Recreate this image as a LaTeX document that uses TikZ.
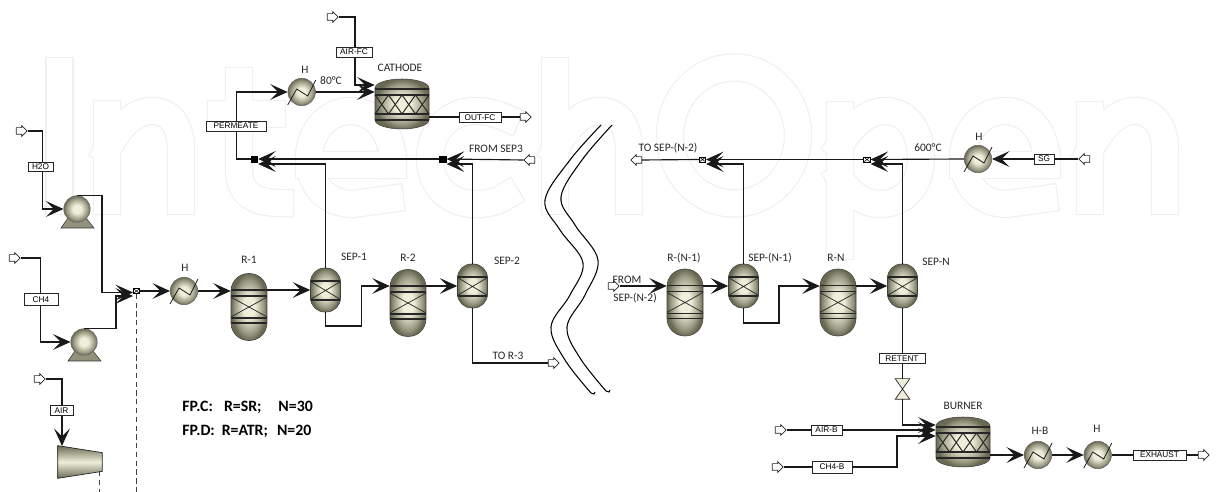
\documentclass[tikz,border=0pt]{standalone}
\usepackage{fontspec}
\setmainfont{Carlito}
\newfontfamily\streamfont{Liberation Sans}
\usetikzlibrary{calc, shapes, shapes.arrows, shapes.geometric, backgrounds, arrows.meta}
\definecolor{olivedark}{HTML}{6A6A54}
\definecolor{olivelight}{HTML}{EEEEDA}
\definecolor{markgray}{HTML}{F0F0F0}
\pgfdeclareradialshading{olive}{\pgfpoint{0bp}{0bp}}{color(0bp)=(olivelight); color(8bp)=(olivelight); color(20bp)=(olivedark!65!olivelight); color(25bp)=(olivedark); color(50bp)=(olivedark)}
\begin{document}
\begin{tikzpicture}[
                    x=0.02cm, y=-0.02cm,
                    line/.style={draw=black!90, line width=.65pt, -{Stealth[length=10pt, width=9pt, inset=4.6pt]}},
                    plain/.style={draw=black!90, line width=.65pt},
                    vessel/.style={rectangle, draw=black!75, line width=.3pt, shading=olive, inner sep=0pt},
                    reactor/.style={vessel, rounded corners=.35cm, minimum width=.72cm, minimum height=1.34cm,
                        path picture={
                            \coordinate (c) at (path picture bounding box.center);
                            \draw[line width=.65pt, black!85] ($(c)+(-20,-17)$) -- ($(c)+(20,-17)$) ($(c)+(-20,-11)$) -- ($(c)+(20,-11)$)
                                ($(c)+(-20,11)$) -- ($(c)+(20,11)$) ($(c)+(-20,16)$) -- ($(c)+(20,16)$);
                            \draw[line width=.4pt, black!85] ($(c)+(-20,-11)$) -- ($(c)+(20,11)$) ($(c)+(-20,11)$) -- ($(c)+(20,-11)$);
                        }},
                    separator/.style={vessel, rounded corners=.28cm, minimum width=.6cm, minimum height=.88cm,
                        path picture={
                            \coordinate (c) at (path picture bounding box.center);
                            \draw[line width=.65pt, black!85] ($(c)+(-16,-9)$) -- ($(c)+(16,-9)$) ($(c)+(-16,10)$) -- ($(c)+(16,10)$);
                            \draw[line width=.4pt, black!85] ($(c)+(-16,-9)$) -- ($(c)+(16,10)$) ($(c)+(-16,10)$) -- ($(c)+(16,-9)$);
                        }},
                    drum/.style={rectangle, minimum width=1.08cm, minimum height=1cm, inner sep=0pt},
                    heater/.style={circle, draw=black!60, line width=.3pt, shading=olive, minimum size=.55cm, inner sep=0pt},
                    pump/.style={heater, minimum size=.53cm},
                    pumpbase/.style={draw=black!80, line width=.3pt, fill=olivedark!70!olivelight},
                    comp/.style={draw=black!85, line width=.4pt, top color=olivedark, bottom color=olivedark, middle color=olivelight},
                    port/.style={single arrow, draw=black!85, fill=white, line width=.4pt, minimum height=.22cm,
                        inner sep=.06cm, single arrow head extend=.04cm, single arrow head indent=0pt},
                    portleft/.style={port, shape border rotate=180},
                    stream/.style={draw=black!85, fill=white, line width=.4pt, inner sep=0pt, minimum height=.2cm, font=\streamfont\fontsize{4.7}{5}\selectfont},
                    tag/.style={inner sep=0pt, text=black!85, font=\fontsize{6.5}{7.5}\selectfont},
                    note/.style={anchor=west, inner sep=0pt, font=\bfseries\fontsize{9}{10}\selectfont},
                    mixblack/.style={rectangle, draw=black, fill=black, minimum width=.13cm, minimum height=.12cm, inner sep=0pt},
                    mixcross/.style={rectangle, draw=black, fill=white, line width=.3pt, minimum width=.13cm, minimum height=.1cm, inner sep=0pt,
                        path picture={\draw[line width=.3pt] (path picture bounding box.north west) -- (path picture bounding box.south east)
                            (path picture bounding box.south west) -- (path picture bounding box.north east);}},
                    backmark/.style={draw=markgray, line width=.7pt, double=white, double distance=.52cm, line cap=rect, line join=round}
                ]
                    \useasboundingbox (0,0) rectangle (1225,492);

                    % Faint lettering behind the flowsheet
                    \begin{scope}[on background layer]
                    \draw[backmark] (59.5,71) -- (59.5,201);
                    \draw[backmark] (107,114) -- (107,201) (107,150) .. controls (120,125) and (135,111) .. (152,111) .. controls (170,111) and (181,125) .. (181,150) -- (181,201);
                    \draw[backmark] (239,81) -- (239,170) .. controls (239,192) and (252,203) .. (280,203) (221,114) -- (272,114);
                    \draw[backmark] (393,165) -- (309,165) (393,165) .. controls (393,132) and (375,111) .. (351,111) .. controls (327,111) and (309,132) .. (309,158) .. controls (309,185) and (327,204) .. (353,204) -- (390,199);
                    \draw[backmark] (506,118) .. controls (495,113) and (485,111) .. (475,111) .. controls (448,111) and (430,132) .. (430,158) .. controls (430,185) and (448,204) .. (475,204) .. controls (487,204) and (497,202) .. (506,196);
                    \draw[backmark] (555,71) -- (555,201) (555,150) .. controls (568,125) and (583,111) .. (600,111) .. controls (618,111) and (629,125) .. (629,150) -- (629,201);
                    \draw[backmark] (734,135.5) ellipse [x radius=64, y radius=68];
                    \draw[backmark] (840,115) -- (840,246) (840,145) .. controls (852,125) and (868,111) .. (885,111) .. controls (908,111) and (921,132) .. (921,158) .. controls (921,185) and (905,204) .. (880,204) .. controls (865,204) and (850,195) .. (840,178);
                    \draw[backmark] (1047,165) -- (963,165) (1047,165) .. controls (1047,132) and (1029,111) .. (1005,111) .. controls (981,111) and (963,132) .. (963,158) .. controls (963,185) and (981,204) .. (1007,204) -- (1044,199);
                    \draw[backmark] (1090,115) -- (1090,201) (1090,150) .. controls (1103,125) and (1118,111) .. (1135,111) .. controls (1153,111) and (1165,125) .. (1165,150) -- (1165,201);
                    \end{scope}

                    % Feed and product ports
                    \node [port] (inh2o) at (20,131) {};
                    \node [port] (inch4) at (13,258) {};
                    \node [port] (inair) at (38,379) {};
                    \node [port] (inairfc) at (331,17) {};
                    \node [port] (outfc) at (524,117) {};
                    \node [portleft] (insep3) at (531,160) {};
                    \node [port] (outr3) at (552,363) {};
                    \node [portleft] (outsepn) at (638,160) {};
                    \node [port] (insepn) at (612,286) {};
                    \node [portleft] (insg) at (1086,159) {};
                    \node [port] (inairb) at (779,430) {};
                    \node [port] (inch4b) at (776,467) {};
                    \node [port] (outexh) at (1202,455) {};

                    % Equipment
                    \node [pump] (ph2o) at (77,209) {};
                    \node [pump] (pch4) at (84,342) {};
                    \node [rectangle, minimum width=.88cm, minimum height=.64cm, inner sep=0pt] (air1) at (80,462) {};
                    \node [mixcross] (mix1) at (136.5,291) {};
                    \node [heater] (h1) at (184,291) {};
                    \node [reactor] (r1) at (249,307) {};
                    \node [separator] (sep1) at (325.5,290) {};
                    \node [reactor] (r2) at (408,303) {};
                    \node [separator] (sep2) at (472.5,286) {};
                    \node [heater] (h2) at (301.7,92) {};
                    \node [drum] (cathode) at (402,104) {};
                    \node [mixblack] (mix2) at (254.5,159) {};
                    \node [mixblack] (mix3) at (443,159) {};
                    \node [mixcross] (mix4) at (702.5,159.5) {};
                    \node [mixcross] (mix5) at (867,159.5) {};
                    \node [heater] (h3) at (978,159) {};
                    \node [reactor] (rn1) at (685,302.5) {};
                    \node [separator] (sepn1) at (743.5,286) {};
                    \node [reactor] (rn) at (838,302.5) {};
                    \node [separator] (sepn) at (902.5,286) {};
                    \node [rectangle, minimum width=.28cm, minimum height=.4cm, inner sep=0pt] (valve) at (902.5,389) {};
                    \node [drum] (burner) at (963,442) {};
                    \node [heater] (hb) at (1038,455) {};
                    \node [heater] (h4) at (1097.7,455) {};

                    \begin{scope}[on background layer]
                    \foreach \p in {ph2o, pch4}
                        \draw [pumpbase] ($(\p)+(-9,9)$) -- ($(\p)+(-16,19)$) -- ($(\p)+(17,19)$) -- ($(\p)+(9,9)$) -- cycle;
                    \end{scope}

                    % Domed drums
                    \foreach \d in {cathode, burner} {
                        \shade [shading=olive, draw=black!75, line width=.3pt] ($(\d)+(-27,-16)$) arc [start angle=180, end angle=360, x radius=27, y radius=9] -- ++(0,32) arc [start angle=0, end angle=180, x radius=27, y radius=9] -- cycle;
                        \draw [line width=.65pt, black!85] ($(\d)+(-27,-15)$) -- ($(\d)+(27,-15)$) ($(\d)+(-27,-9)$) -- ($(\d)+(27,-9)$)
                            ($(\d)+(-27,10)$) -- ($(\d)+(27,10)$) ($(\d)+(-27,16)$) -- ($(\d)+(27,16)$);
                        \draw [line width=.55pt, black!85] ($(\d)+(-27,10)$) -- ($(\d)+(-13.5,-9)$) -- ($(\d)+(0,10)$) -- ($(\d)+(13.5,-9)$) -- ($(\d)+(27,10)$);
                        \draw [line width=.55pt, black!85] ($(\d)+(-27,-9)$) -- ($(\d)+(-13.5,10)$) -- ($(\d)+(0,-9)$) -- ($(\d)+(13.5,10)$) -- ($(\d)+(27,-9)$);
                    }

                    % Coils on the heaters
                    \foreach \h in {h1, h2, h3, hb, h4}
                        \draw [line width=.45pt, black!90] ($(\h)+(-14,13)$) -- ($(\h)+(-5,-3)$) -- ($(\h)+(6,4)$) -- ($(\h)+(14,-12)$);

                    % Valve and compressor
                    \draw [draw=black!85, line width=.4pt, fill=olivelight] (valve.north west) -- (valve.north east) -- (valve.south west) -- (valve.south east) -- cycle;
                    \shade [comp] (air1.north west) -- ($(air1.north east)+(0,7)$) -- ($(air1.south east)+(0,-7)$) -- (air1.south west) -- cycle;

                    % Free ends and bends
                    \coordinate (jh2o) at (102,292.5);
                    \coordinate (jch4) at (116,296);
                    \coordinate (jair) at (62,446);
                    \coordinate (dash1) at (136.5,492);
                    \coordinate (dash2) at (99,471);
                    \coordinate (dash3) at (99,492);
                    \coordinate (jfc) at (355,85);
                    \coordinate (top1) at (325.5,164);
                    \coordinate (top2) at (472.5,164);
                    \coordinate (top3) at (743.5,164);
                    \coordinate (top4) at (902.5,164);
                    \coordinate (low1) at (361.5,326);
                    \coordinate (low2) at (779,323);
                    \coordinate (perm) at (236.5,92);
                    \coordinate (jret) at (902.5,425);
                    \coordinate (jch4b) at (897,436);

                    % Edges into the first mixer
                    \path [line] (inh2o.east) -| ($(ph2o.west)+(-21,0)$) -- (ph2o.west);
                    \path [line] (inch4.east) -| ($(pch4.west)+(-30,0)$) -- (pch4.west);
                    \path [line] (ph2o.north) -| (jh2o) -- (mix1.west |- jh2o);
                    \path [line] (pch4.north) -| (jch4) -- (mix1.west |- jch4);
                    \path [line] (inair.east) -| (jair);
                    \path [line] (mix1.east) -- (h1.west);
                    \path [line] (h1.east) -- (r1.west |- h1);

                    % Edges along the left train
                    \path [line] (r1.east |- sep1) -- (sep1.west);
                    \path [line] (sep1.south) |- (low1) |- (r2.west |- sep2);
                    \path [line] (r2.east |- sep2) -- (sep2.west);
                    \path [line] (sep1.north) -- (top1) -- (mix2.east |- top1);
                    \path [line] (sep2.north) -- (top2) -- (mix3.east |- top2);
                    \path [line] (insep3.west) -- (mix3.east);
                    \path [line] (mix3.west) -- (mix2.east);
                    \path [line] (mix2.west) -| (perm) -- (h2.west);
                    \path [line] (h2.east) -- (cathode.west |- h2);
                    \path [line] (inairfc.east) -| (jfc) -- (cathode.west |- jfc);
                    \path [plain] (cathode.east |- outfc) -- (outfc.west);
                    \path [plain] (sep2.south) |- (outr3.west);

                    % Edges along the right train
                    \path [line] (insepn.east) -- (rn1.west |- insepn);
                    \path [line] (rn1.east |- sepn1) -- (sepn1.west);
                    \path [line] (sepn1.south) |- (low2) |- (rn.west |- sepn);
                    \path [line] (rn.east |- sepn) -- (sepn.west);
                    \path [line] (sepn1.north) -- (top3) -- (mix4.east |- top3);
                    \path [line] (sepn.north) -- (top4) -- (mix5.east |- top4);
                    \path [line] (insg.west) -- (h3.east);
                    \path [line] (h3.west) -- (mix5.east);
                    \path [line] (mix5.west) -- (mix4.east);
                    \path [plain] (mix4.west) -- (outsepn.east);

                    % Edges around the burner
                    \path [plain] (sepn.south) -- (valve.north);
                    \path [line] (valve.south) -- (jret) -- (burner.west |- jret);
                    \path [line] (inairb.east) -- (burner.west |- inairb);
                    \path [line] (inch4b.east) -| (jch4b) -- (burner.west |- jch4b);
                    \path [line] (burner.east |- hb) -- (hb.west);
                    \path [line] (hb.east) -- (h4.west);
                    \path [plain] (h4.east) -- (outexh.west);

                    % Signal lines
                    \draw [densely dashed, black!75, line width=.55pt] (mix1.south) -- (dash1);
                    \draw [densely dashed, black!75, line width=.55pt] (dash2) -- (dash3);

                    % Break in the train
                    \draw [line width=.6pt] plot [smooth, tension=.6] coordinates {(601,125) (570,160) (545,200) (560,230) (583,263) (570,295) (551,327) (565,360) (591,393)} -- ++(3,1) -- ++(1,-2);
                    \draw [line width=.6pt] plot [smooth, tension=.6] coordinates {(612,125) (582,160) (561,197) (575,225) (598,260) (585,295) (567,327) (580,358) (606,391)} -- ++(3,1) -- ++(1,-2);

                    % Stream tables
                    \node [stream, minimum width=.5cm, minimum height=.18cm] (lh2o) at (40.5,166.5) {H2O};
                    \node [stream, minimum width=.68cm, minimum height=.24cm] (lch4) at (41,299.5) {CH4};
                    \node [stream, minimum width=.46cm, minimum height=.21cm] (lair) at (61.5,410.5) {AIR};
                    \node [stream, minimum width=1.2cm] (lperm) at (236,126) {PERMEATE};
                    \node [stream, minimum width=.72cm] (lairfc) at (354,52) {AIR-FC};
                    \node [stream, minimum width=.84cm, minimum height=.19cm] (loutfc) at (480,117.5) {OUT-FC};
                    \node [stream, minimum width=.4cm] (lsg) at (1044,159) {SG};
                    \node [stream, minimum width=.92cm, minimum height=.21cm] (lret) at (902,358.5) {RETENT};
                    \node [stream, minimum width=.62cm] (lairb) at (826.5,430) {AIR-B};
                    \node [stream, minimum width=.8cm, minimum height=.24cm] (lch4b) at (832,467) {CH4-B};
                    \node [stream, minimum width=1.06cm] (lexh) at (1159.5,455) {EXHAUST};

                    % Names
                    \node [tag] (th1) at (185,268) {H};
                    \node [tag] (tr1) at (249,259.5) {R-1};
                    \node [tag] (tsep1) at (354,257) {SEP-1};
                    \node [tag] (tr2) at (408,258) {R-2};
                    \node [tag] (tsep2) at (507,261) {SEP-2};
                    \node [tag] (tr3) at (508,356) {TO R-3};
                    \node [tag] (th2) at (305,70) {H};
                    \node [tag] (t80) at (331,81) {80°C};
                    \node [tag] (tcath) at (400,68) {CATHODE};
                    \node [tag] (tsep3) at (496,149) {FROM SEP3};
                    \node [tag] (tton) at (668,148) {TO SEP-(N-2)};
                    \node [tag] (tfrom) at (627,280) {FROM};
                    \node [tag] (tfromn) at (635,298) {SEP-(N-2)};
                    \node [tag] (trn1) at (684,258) {R-(N-1)};
                    \node [tag] (tsepn1) at (770,258) {SEP-(N-1)};
                    \node [tag] (trn) at (836,258) {R-N};
                    \node [tag] (tsepn) at (936,262) {SEP-N};
                    \node [tag] (t600) at (928,148) {600°C};
                    \node [tag] (th3) at (979,137) {H};
                    \node [tag] (tburn) at (963,406) {BURNER};
                    \node [tag] (thb) at (1040,431) {H-B};
                    \node [tag] (th4) at (1097,429) {H};

                    % Case note
                    \node [note] (fpc) at (182,407) {FP.C:\hspace{.7em}R=SR;\hspace{1.07em}N=30};
                    \node [note] (fpd) at (182,431) {FP.D:\hspace{.44em}R=ATR;\hspace{.57em}N=20};
                \end{tikzpicture}
\end{document}
